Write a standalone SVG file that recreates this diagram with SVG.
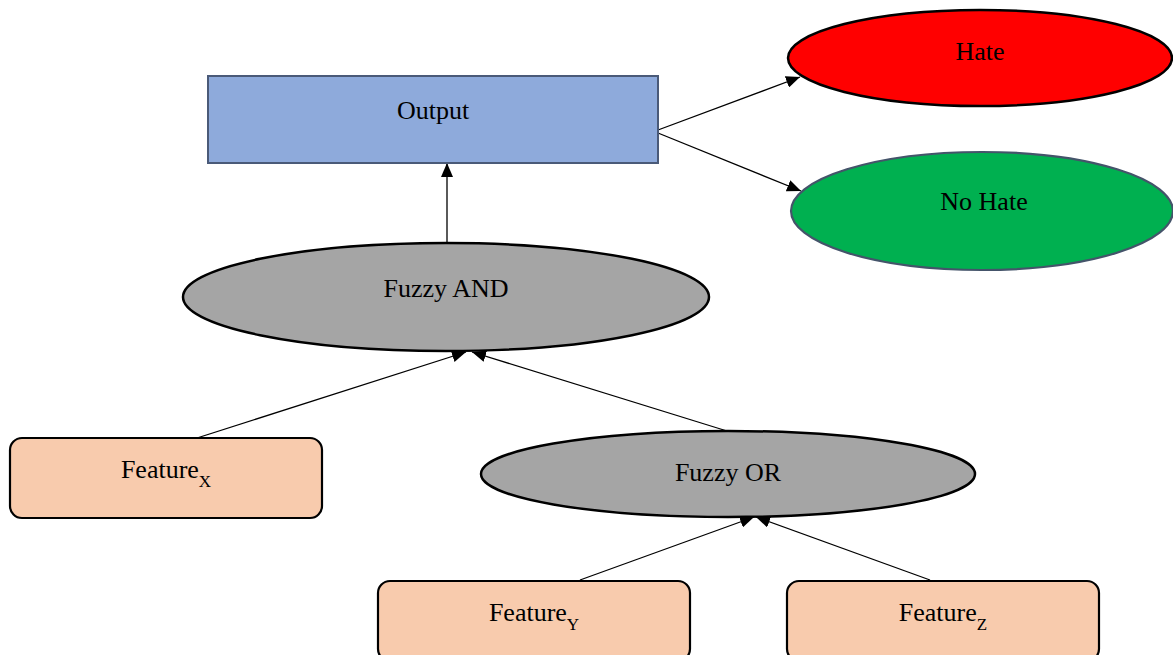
<svg xmlns="http://www.w3.org/2000/svg" width="1173" height="655" viewBox="0 0 1173 655">
  <defs>
    <marker id="arrow" viewBox="0 0 14 12" refX="14" refY="6" markerWidth="14" markerHeight="12" markerUnits="userSpaceOnUse" orient="auto">
      <path d="M0,0 L14,6 L0,12 Z" fill="#000"/>
    </marker>
    <style>
      text { font-family: "Liberation Serif", "Times New Roman", serif; font-size: 26px; fill: #000; text-anchor: middle; }
      .sub { font-size: 17px; }
      .edge { stroke: #000; stroke-width: 1.3; fill: none; marker-end: url(#arrow); }
      .feature { fill: #f8cbad; stroke: #000; stroke-width: 2.2; }
      .gate { fill: #a5a5a5; stroke: #000; stroke-width: 2.5; }
    </style>
  </defs>
  <rect width="1173" height="655" fill="#fff"/>

  <g id="connectors">
    <line class="edge" x1="658" y1="130" x2="800" y2="77"/>
    <line class="edge" x1="658" y1="133" x2="801" y2="191"/>
    <line class="edge" x1="447" y1="243" x2="447" y2="163"/>
    <line class="edge" x1="197" y1="438" x2="466" y2="352"/>
    <line class="edge" x1="727" y1="431" x2="472" y2="352"/>
    <line class="edge" x1="580" y1="580" x2="754" y2="517"/>
    <line class="edge" x1="930" y1="580" x2="756" y2="517"/>
  </g>

  <g id="output">
    <rect x="208" y="76" width="450" height="87" fill="#8eaadb" stroke="#4a5a78" stroke-width="2"/>
    <text x="433" y="119">Output</text>
  </g>

  <g id="hate">
    <ellipse cx="980" cy="58" rx="192" ry="48" fill="#ff0000" stroke="#000" stroke-width="2.5"/>
    <text x="980" y="60">Hate</text>
  </g>

  <g id="no-hate">
    <ellipse cx="982" cy="211" rx="191" ry="59" fill="#00b050" stroke="#44546a" stroke-width="2.2"/>
    <text x="984" y="210">No Hate</text>
  </g>

  <g id="fuzzy-and">
    <ellipse class="gate" cx="446" cy="297" rx="263" ry="54"/>
    <text x="446" y="297">Fuzzy AND</text>
  </g>

  <g id="fuzzy-or">
    <ellipse class="gate" cx="728" cy="474" rx="247" ry="43"/>
    <text x="728" y="481">Fuzzy OR</text>
  </g>

  <g id="feature-x">
    <rect class="feature" x="10" y="438" width="312" height="80" rx="12"/>
    <text x="166" y="478">Feature<tspan class="sub" dy="9">X</tspan></text>
  </g>

  <g id="feature-y">
    <rect class="feature" x="378" y="581" width="312" height="80" rx="12"/>
    <text x="534" y="621">Feature<tspan class="sub" dy="9">Y</tspan></text>
  </g>

  <g id="feature-z">
    <rect class="feature" x="787" y="581" width="312" height="80" rx="12"/>
    <text x="943" y="621">Feature<tspan class="sub" dy="9">Z</tspan></text>
  </g>
</svg>
